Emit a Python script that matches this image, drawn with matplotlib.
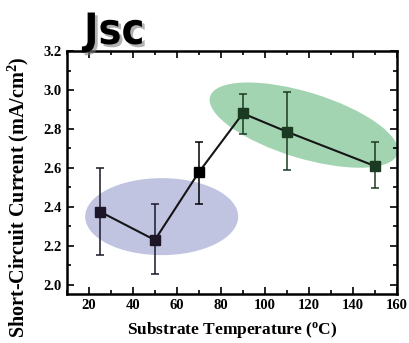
import matplotlib
matplotlib.use("Agg")
import matplotlib.pyplot as plt
import matplotlib.patheffects as pe
from matplotlib.patches import Ellipse
from matplotlib.transforms import ScaledTranslation
from matplotlib.ticker import MultipleLocator

# data
temps = [25, 50, 70, 90, 110, 150]
jsc = [2.376, 2.23, 2.578, 2.88, 2.786, 2.61]
err_lo = [0.222, 0.175, 0.164, 0.106, 0.196, 0.114]
err_hi = [0.222, 0.184, 0.157, 0.098, 0.205, 0.122]
pt_colors = ["#1c1628", "#1c1628", "#000000", "#1b3a22", "#1b3a22", "#1b3a22"]

plt.rcParams["font.family"] = ["Liberation Serif", "DejaVu Serif"]
plt.rcParams["font.weight"] = "bold"
plt.rcParams["mathtext.fontset"] = "custom"
plt.rcParams["mathtext.rm"] = "Liberation Serif:bold"
plt.rcParams["mathtext.bf"] = "Liberation Serif:bold"

fig = plt.figure(figsize=(4.10, 3.43), dpi=100)
ax = fig.add_axes([0.163, 0.143, 0.805, 0.708])

# highlight ellipses (sizes in inches, centred on data points)
blue = Ellipse((0, 0), 1.53, 0.77, angle=0, facecolor="#c1c4e1", edgecolor="none",
               transform=fig.dpi_scale_trans + ScaledTranslation(53.1, 2.35, ax.transData), zorder=1)
green = Ellipse((0, 0), 1.96, 0.66, angle=-17, facecolor="#a3d4b2", edgecolor="none",
                transform=fig.dpi_scale_trans + ScaledTranslation(117.7, 2.82, ax.transData), zorder=1)
ax.add_patch(blue)
ax.add_patch(green)

ax.plot(temps, jsc, color="#151515", lw=1.5, zorder=3)
for x, y, lo, hi, c in zip(temps, jsc, err_lo, err_hi, pt_colors):
    ax.errorbar([x], [y], yerr=[[lo], [hi]], fmt="s", color=c, ms=7, ecolor=c,
                elinewidth=1.1, capsize=3, capthick=1.1, zorder=4)

ax.set_xlim(10, 160)
ax.set_ylim(1.953, 3.2)
ax.xaxis.set_major_locator(MultipleLocator(20))
ax.xaxis.set_minor_locator(MultipleLocator(10))
ax.yaxis.set_major_locator(MultipleLocator(0.2))
ax.yaxis.set_minor_locator(MultipleLocator(0.1))
ax.set_xticks(range(20, 161, 20))
ax.tick_params(which="both", direction="in", top=True, right=True, labelsize=10.5, width=1.2)
ax.tick_params(which="major", length=5)
ax.tick_params(which="minor", length=3)
for s in ax.spines.values():
    s.set_linewidth(1.8)

ax.set_xlabel("Substrate Temperature ($\\mathrm{^{o}}$C)", fontsize=12.5, fontweight="bold", labelpad=6)
ax.set_ylabel("Short-Circuit Current (mA/cm$\\mathrm{^{2}}$)", fontsize=14.5, fontweight="bold")
ax.yaxis.set_label_coords(-0.108, 0.40)

fig.text(0.205, 0.872, "Jsc", fontsize=31, fontweight="heavy", fontstretch="condensed",
         family=["DejaVu Sans", "Liberation Sans"], color="black",
         path_effects=[pe.withSimplePatchShadow(offset=(2, -2), shadow_rgbFace="gray", alpha=0.6)])

fig.savefig("out.png", dpi=100)
